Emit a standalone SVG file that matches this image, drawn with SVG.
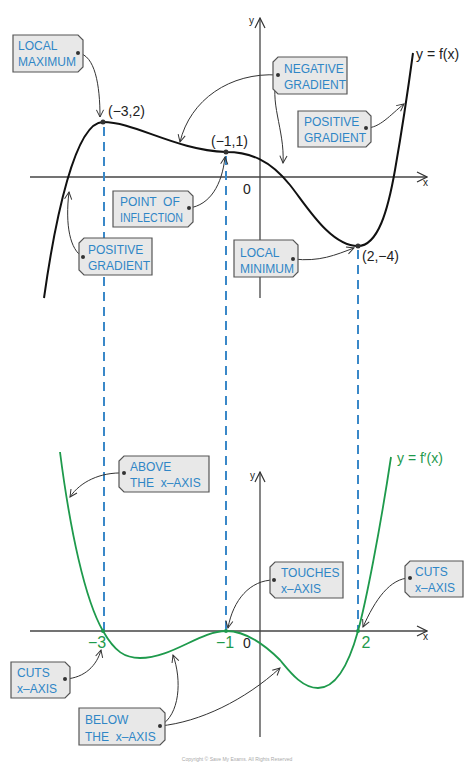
<svg xmlns="http://www.w3.org/2000/svg" width="474" height="767" viewBox="0 0 474 767">
<defs>
<marker id="ah" viewBox="0 0 10 10" refX="9" refY="5" markerWidth="9" markerHeight="9" orient="auto" markerUnits="userSpaceOnUse">
<path d="M1,1 L9,5 L1,9" fill="none" stroke="#333" stroke-width="1.1"/>
</marker>
<marker id="axh" viewBox="0 0 12 12" refX="11" refY="6" markerWidth="12" markerHeight="12" orient="auto" markerUnits="userSpaceOnUse">
<path d="M1,1 L11,6 L1,11" fill="none" stroke="#333" stroke-width="1.2"/>
</marker>
</defs>
<style>
.box{fill:#e8e8e8;stroke:#555;stroke-width:1.2}
.bt{font-family:"Liberation Sans",Arial,sans-serif;font-size:12px;fill:#2f86c6}
.lbl{font-family:"Liberation Sans",Arial,sans-serif;font-size:14px;fill:#222}
.glbl{font-family:"Liberation Sans",Arial,sans-serif;font-size:16px;fill:#1e9a4c}
.ax{stroke:#444;stroke-width:1.3;fill:none}
.dash{stroke:#3a88c8;stroke-width:2;stroke-dasharray:9 6;fill:none}
.con{stroke:#333;stroke-width:1;fill:none;marker-end:url(#ah)}
.dot{fill:#333}
</style>
<rect width="474" height="767" fill="#fff"/>
<g id="axes">
<line class="ax" x1="30" y1="177" x2="427" y2="177" marker-end="url(#axh)"/>
<line class="ax" x1="260" y1="298" x2="260" y2="18" marker-end="url(#axh)"/>
<line class="ax" x1="30" y1="631" x2="427" y2="631" marker-end="url(#axh)"/>
<line class="ax" x1="260" y1="737" x2="260" y2="472" marker-end="url(#axh)"/>
<text x="423" y="186" class="lbl" style="font-size:10px">x</text>
<text x="423" y="640" class="lbl" style="font-size:10px">x</text>
<text x="249" y="24" class="lbl" style="font-size:10px">y</text>
<text x="250" y="479" class="lbl" style="font-size:10px">y</text>
<text x="243" y="194" class="lbl">0</text>
<text x="243" y="648" class="lbl">0</text>
</g>
<g id="guides">
<line class="dash" x1="104" y1="127" x2="104" y2="631"/>
<line class="dash" x1="226" y1="156" x2="226" y2="631"/>
<line class="dash" x1="358" y1="250" x2="358" y2="631"/>
</g>
<g id="curve-f">
<path d="M44,298 C55,220 75,122 103,122 C135,122 175,150 226,152 C250,152 270,160 290,185 C306,205 330,246 358,246 C378,246 388,210 395,170 C402,130 408,90 413,53" fill="none" stroke="#111" stroke-width="2"/>
<circle class="dot" cx="103" cy="122" r="2.5"/>
<circle class="dot" cx="226" cy="152" r="2.5"/>
<circle class="dot" cx="358" cy="246" r="2.5"/>
<text x="108" y="116" class="lbl">(−3,2)</text>
<text x="211" y="146" class="lbl">(−1,1)</text>
<text x="362" y="261" class="lbl">(2,−4)</text>
<text x="416" y="59" class="lbl">y = f(x)</text>
</g>
<g id="curve-fprime">
<path d="M60,452 C70,530 85,600 103,631 C115,652 125,658 140,658 C172,658 200,631 226,631 C245,631 262,642 280,660 C290,672 302,688 318,688 C338,688 350,660 358,631 C366,602 380,530 391,457" fill="none" stroke="#1e9a4c" stroke-width="1.8"/>
<circle cx="103" cy="631" r="2" fill="#1e9a4c"/>
<circle cx="226" cy="631" r="2" fill="#1e9a4c"/>
<circle cx="358" cy="631" r="2" fill="#1e9a4c"/>
<text x="97" y="648" class="glbl" text-anchor="middle">−3</text>
<text x="225" y="648" class="glbl" text-anchor="middle">−1</text>
<text x="366" y="648" class="glbl" text-anchor="middle">2</text>
<text x="397" y="463" class="lbl" style="fill:#1e9a4c">y = f′(x)</text>
</g>
<g id="connectors">
<path class="con" d="M78,53 C95,55 100,85 100,117"/>
<path class="con" d="M278,75 C230,72 190,100 180,142"/>
<path class="con" d="M278,75 C268,100 285,130 283,163"/>
<path class="con" d="M366,128 C380,128 390,115 404,104"/>
<path class="con" d="M189,208 C210,205 222,185 225,157"/>
<path class="con" d="M83,257 C70,250 65,225 69,192"/>
<path class="con" d="M293,259 C320,262 335,255 354,248"/>
<path class="con" d="M124,473 C100,472 80,482 70,497"/>
<path class="con" d="M274,580 C250,580 233,600 228,628"/>
<path class="con" d="M410,578 C390,578 375,600 363,627"/>
<path class="con" d="M65,679 C85,678 97,665 101,650"/>
<path class="con" d="M160,726 C180,715 182,680 173,655"/>
<path class="con" d="M160,726 C200,722 245,700 280,668"/>
</g>
<g id="local-maximum">
<polygon class="box" points="13,35 78,35 83,40 83,67 78,72 13,72"/>
<text class="bt" x="18" y="50">LOCAL</text><text class="bt" x="18" y="66">MAXIMUM</text>
<circle class="dot" cx="78" cy="53" r="2"/>
</g>
<g id="negative-gradient">
<polygon class="box" points="278,57 347,57 347,94 278,94 273,89 273,62"/>
<text class="bt" x="284" y="73">NEGATIVE</text><text class="bt" x="284" y="89">GRADIENT</text>
<circle class="dot" cx="278" cy="75" r="2"/>
</g>
<g id="positive-gradient-right">
<polygon class="box" points="298,111 366,111 371,116 371,142 366,147 298,147"/>
<text class="bt" x="304" y="126">POSITIVE</text><text class="bt" x="304" y="142">GRADIENT</text>
<circle class="dot" cx="366" cy="128" r="2"/>
</g>
<g id="point-of-inflection">
<polygon class="box" points="113,191 188,191 193,196 193,222 188,227 113,227"/>
<text class="bt" x="120" y="206" xml:space="preserve">POINT  OF</text><text class="bt" x="120" y="222" textLength="63" lengthAdjust="spacingAndGlyphs">INFLECTION</text>
<circle class="dot" cx="189" cy="208" r="2"/>
</g>
<g id="positive-gradient-left">
<polygon class="box" points="84,238 152,238 152,275 84,275 79,270 79,243"/>
<text class="bt" x="88" y="254">POSITIVE</text><text class="bt" x="88" y="270">GRADIENT</text>
<circle class="dot" cx="83" cy="257" r="2"/>
</g>
<g id="local-minimum">
<polygon class="box" points="234,240 293,240 298,245 298,272 293,277 234,277"/>
<text class="bt" x="240" y="257">LOCAL</text><text class="bt" x="240" y="273">MINIMUM</text>
<circle class="dot" cx="293" cy="259" r="2"/>
</g>
<g id="above-x-axis">
<polygon class="box" points="124,456 209,456 209,492 124,492 119,487 119,461"/>
<text class="bt" x="130" y="471">ABOVE</text><text class="bt" x="130" y="487" xml:space="preserve">THE  x–AXIS</text>
<circle class="dot" cx="124" cy="473" r="2"/>
</g>
<g id="touches-x-axis">
<polygon class="box" points="275,562 343,562 343,598 275,598 270,593 270,567"/>
<text class="bt" x="281" y="577">TOUCHES</text><text class="bt" x="281" y="593">x–AXIS</text>
<circle class="dot" cx="274" cy="580" r="2"/>
</g>
<g id="cuts-x-axis-right">
<polygon class="box" points="410,561 463,561 463,597 410,597 405,592 405,566"/>
<text class="bt" x="415" y="576">CUTS</text><text class="bt" x="415" y="592">x–AXIS</text>
<circle class="dot" cx="410" cy="578" r="2"/>
</g>
<g id="cuts-x-axis-left">
<polygon class="box" points="11,662 65,662 70,667 70,693 65,698 11,698"/>
<text class="bt" x="17" y="677">CUTS</text><text class="bt" x="17" y="693">x–AXIS</text>
<circle class="dot" cx="65" cy="679" r="2"/>
</g>
<g id="below-x-axis">
<polygon class="box" points="79,708 160,708 165,713 165,740 160,745 79,745"/>
<text class="bt" x="85" y="724">BELOW</text><text class="bt" x="85" y="741" xml:space="preserve">THE  x–AXIS</text>
<circle class="dot" cx="160" cy="726" r="2"/>
</g>
<text x="237" y="761" text-anchor="middle" font-family="Liberation Sans, Arial, sans-serif" font-size="5" fill="#aaa">Copyright © Save My Exams. All Rights Reserved</text>
</svg>
